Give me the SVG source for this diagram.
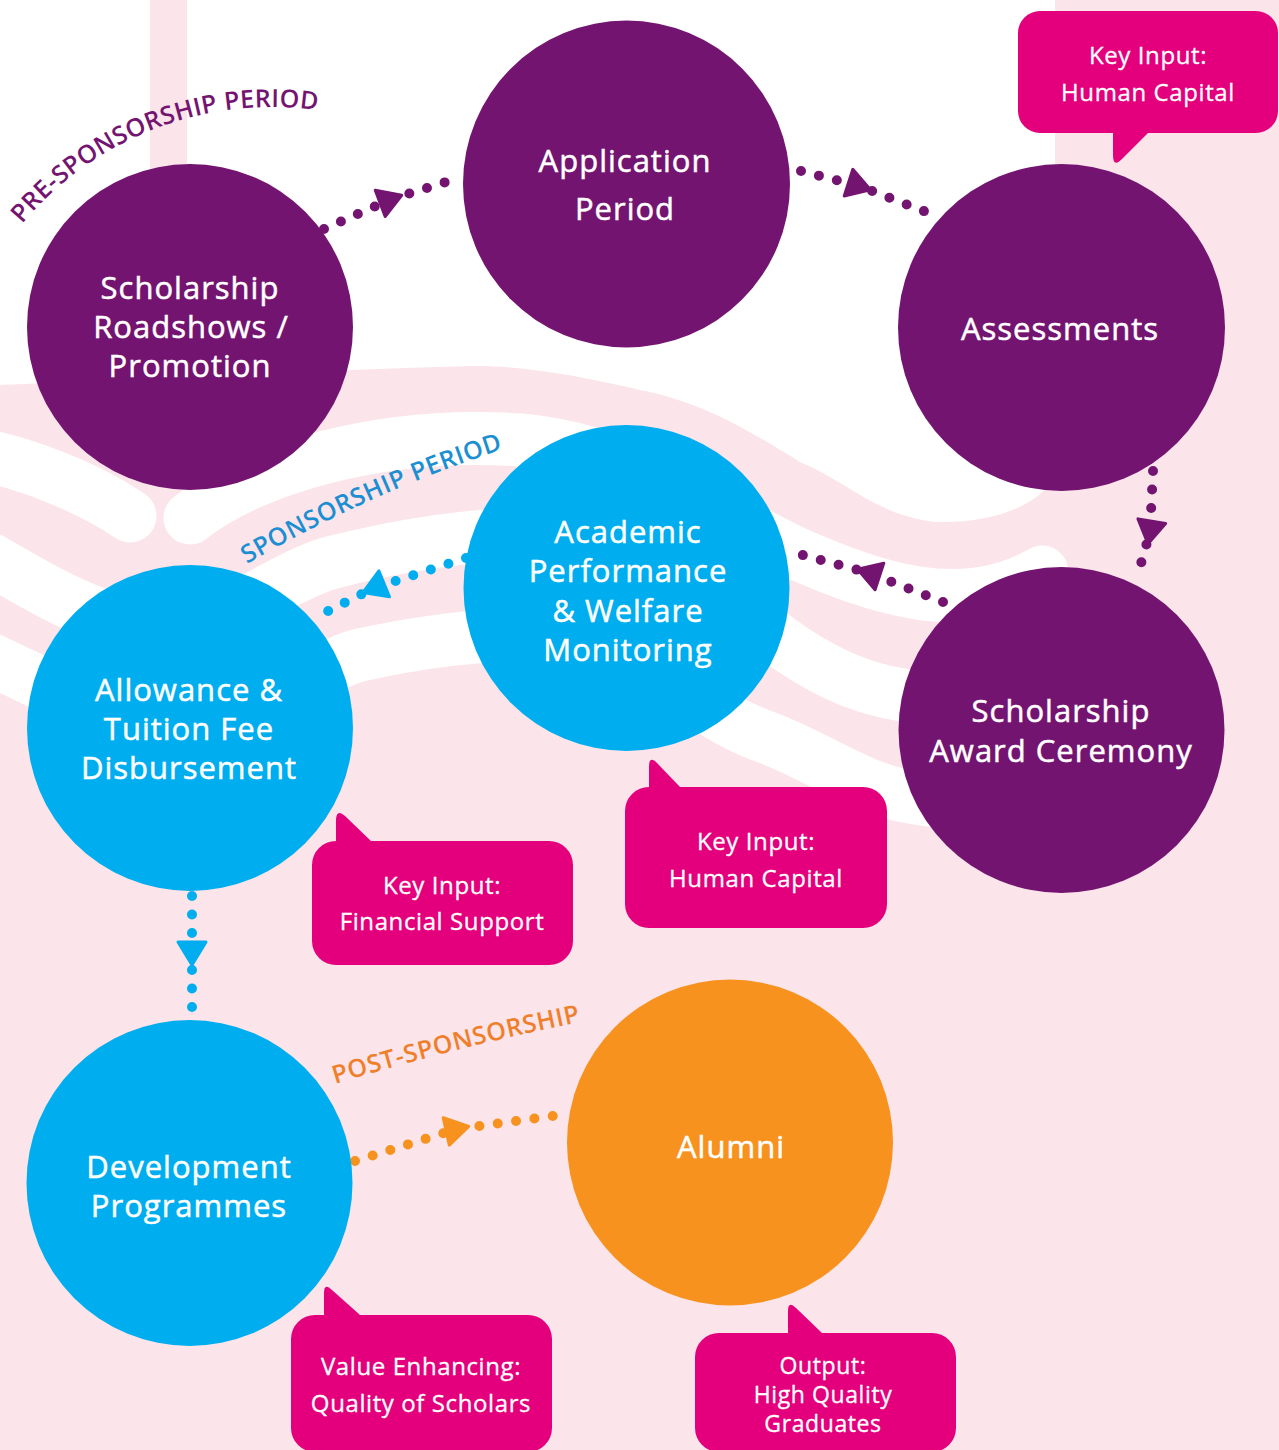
<svg xmlns="http://www.w3.org/2000/svg" width="1279" height="1450" viewBox="0 0 1279 1450">
<style>
.bg{fill:#FBE4EA}
.band{fill:none;stroke:#FFFFFF;stroke-width:53;stroke-linecap:round}
.np{fill:#741471}
.nb{fill:#00AEEF}
.no{fill:#F7921E}
.call{fill:#E4007C}
.lbl{font-family:"Open Sans","Noto Sans",sans-serif;font-size:31px;fill:#FFFFFF;stroke:#FFFFFF;stroke-width:0.5px;text-anchor:middle;letter-spacing:1px}
.ct{font-family:"Open Sans","Noto Sans",sans-serif;font-size:24px;fill:#FFFFFF;stroke:#FFFFFF;stroke-width:0.3px;text-anchor:middle;letter-spacing:0.6px}
.ct2{font-size:23px}
.phase{font-family:"Open Sans","Noto Sans",sans-serif;font-size:25px;font-weight:600}
.dots{fill:none;stroke-width:10;stroke-linecap:round;stroke-dasharray:0 18.5}
</style>
<defs>
<marker id="arrP" viewBox="-16 -18 32 36" markerWidth="32" markerHeight="36" refX="0" refY="0" orient="auto" markerUnits="userSpaceOnUse"><path d="M12,0 L-11,-14 L-11,14 Z" fill="#741471" stroke="#741471" stroke-width="3" stroke-linejoin="round"/></marker>
<marker id="arrB" viewBox="-16 -18 32 36" markerWidth="32" markerHeight="36" refX="0" refY="0" orient="auto" markerUnits="userSpaceOnUse"><path d="M12,0 L-11,-14 L-11,14 Z" fill="#00AEEF" stroke="#00AEEF" stroke-width="3" stroke-linejoin="round"/></marker>
<marker id="arrO" viewBox="-16 -18 32 36" markerWidth="32" markerHeight="36" refX="0" refY="0" orient="auto" markerUnits="userSpaceOnUse"><path d="M12,0 L-11,-14 L-11,14 Z" fill="#F7921E" stroke="#F7921E" stroke-width="3" stroke-linejoin="round"/></marker>
<path id="prePath" d="M22,224 A326,326 0 0 1 356,118"/>
<path id="sponPath" d="M247,564 A1296,1296 0 0 1 520,444"/>
<path id="postPath" d="M335,1084 A2645,2645 0 0 1 600,1018"/>
</defs>

<g id="background">
<rect class="bg" x="0" y="0" width="1279" height="1450"/>
<path fill="#FFFFFF" d="M0,0 H1055 V470 C1050,500 1000,524 935,522 C875,515 845,480 800,462 C740,425 700,402 640,390 C580,376 520,365 470,366 C330,370 150,378 0,385 Z"/>
<rect class="bg" x="150" y="0" width="37" height="200"/>
<path class="band" d="M-30,453 C20,460 90,488 130,516"/>
<path class="band" d="M190,518 C250,470 380,430 520,440 C640,450 720,520 800,555 C870,585 960,620 1042,572"/>
<path class="band" d="M-30,548 C40,585 110,640 190,620 C240,615 280,578 330,563 C400,545 460,535 560,532 C650,530 720,600 790,648 C830,675 870,693 920,697 C960,700 980,700 1000,700"/>
<path class="band" d="M-30,650 C40,680 100,720 180,730 C260,740 300,670 360,655 C420,642 470,635 560,632 C630,630 680,705 760,735 C810,752 850,783 900,795 C950,805 980,805 1000,800"/>
</g>

<g id="phase-labels">
<text class="phase" fill="#741471" letter-spacing="0.3"><textPath href="#prePath">PRE-SPONSORSHIP PERIOD</textPath></text>
<text class="phase" fill="#1C8FD2" letter-spacing="0.6"><textPath href="#sponPath">SPONSORSHIP PERIOD</textPath></text>
<text class="phase" fill="#EF7F2A" letter-spacing="0.6"><textPath href="#postPath">POST-SPONSORSHIP</textPath></text>
</g>

<g id="connectors">
<path class="dots" stroke="#741471" marker-mid="url(#arrP)" d="M324,229 L390.5,199.5 L449,181"/>
<path class="dots" stroke="#741471" marker-mid="url(#arrP)" d="M801,171 L859,186 L934,215"/>
<path class="dots" stroke="#741471" marker-mid="url(#arrP)" d="M1153,471 L1150,532 L1138,574"/>
<path class="dots" stroke="#741471" marker-mid="url(#arrP)" d="M943,602 L869,573 L795,553"/>
<path class="dots" stroke="#00AEEF" marker-mid="url(#arrB)" d="M466,558 L374,588 L318,616"/>
<path class="dots" stroke="#00AEEF" marker-mid="url(#arrB)" d="M192,896 L192,953 L192,1012"/>
<path class="dots" stroke="#F7921E" marker-mid="url(#arrO)" d="M355,1161 L457,1129 L567,1114"/>
</g>

<g id="node-roadshows">
<circle class="np" cx="190" cy="327" r="163"/>
<text class="lbl"><tspan x="190" y="299">Scholarship</tspan><tspan x="191" y="338">Roadshows /</tspan><tspan x="190" y="377">Promotion</tspan></text>
</g>
<g id="node-application">
<circle class="np" cx="626.5" cy="184" r="163.5"/>
<text class="lbl"><tspan x="625" y="172">Application</tspan><tspan x="625" y="220">Period</tspan></text>
</g>
<g id="node-assessments">
<circle class="np" cx="1061.5" cy="327.5" r="163.5"/>
<text class="lbl" x="1060" y="340">Assessments</text>
</g>
<g id="node-award">
<circle class="np" cx="1061.5" cy="730" r="163"/>
<text class="lbl"><tspan x="1061" y="722">Scholarship</tspan><tspan x="1061" y="762">Award Ceremony</tspan></text>
</g>
<g id="node-academic">
<circle class="nb" cx="626.5" cy="588" r="163"/>
<text class="lbl"><tspan x="628" y="543">Academic</tspan><tspan x="628" y="582">Performance</tspan><tspan x="628" y="622">&amp; Welfare</tspan><tspan x="628" y="661">Monitoring</tspan></text>
</g>
<g id="node-allowance">
<circle class="nb" cx="190" cy="728" r="163"/>
<text class="lbl"><tspan x="189" y="701">Allowance &amp;</tspan><tspan x="189" y="740">Tuition Fee</tspan><tspan x="189" y="779">Disbursement</tspan></text>
</g>
<g id="node-development">
<circle class="nb" cx="189.5" cy="1183" r="163"/>
<text class="lbl"><tspan x="189" y="1178">Development</tspan><tspan x="189" y="1217">Programmes</tspan></text>
</g>
<g id="node-alumni">
<circle class="no" cx="730" cy="1142.5" r="163"/>
<text class="lbl" x="731" y="1158">Alumni</text>
</g>

<g id="callout-assessments">
<path class="call" d="M1040,11 H1256 A22,22 0 0 1 1278,33 V111 A22,22 0 0 1 1256,133 H1148 L1122,159 Q1113,168 1113,155 V133 H1040 A22,22 0 0 1 1018,111 V33 A22,22 0 0 1 1040,11 Z"/>
<text class="ct"><tspan x="1148" y="64">Key Input:</tspan><tspan x="1148" y="101">Human Capital</tspan></text>
</g>
<g id="callout-allowance">
<path class="call" d="M336,841 V821 Q336,808 345,816 L371,841 H549 A24,24 0 0 1 573,865 V941 A24,24 0 0 1 549,965 H336 A24,24 0 0 1 312,941 V865 A24,24 0 0 1 336,841 Z"/>
<text class="ct"><tspan x="442" y="894">Key Input:</tspan><tspan x="442" y="930">Financial Support</tspan></text>
</g>
<g id="callout-academic">
<path class="call" d="M649,787 V767 Q649,755 657,763 L680,787 H863 A24,24 0 0 1 887,811 V904 A24,24 0 0 1 863,928 H649 A24,24 0 0 1 625,904 V811 A24,24 0 0 1 649,787 Z"/>
<text class="ct"><tspan x="756" y="850">Key Input:</tspan><tspan x="756" y="887">Human Capital</tspan></text>
</g>
<g id="callout-development">
<path class="call" d="M315,1315 H324 V1293 Q324,1282 332,1290 L360,1315 H528 A24,24 0 0 1 552,1339 V1428 A24,24 0 0 1 528,1452 H315 A24,24 0 0 1 291,1428 V1339 A24,24 0 0 1 315,1315 Z"/>
<text class="ct"><tspan x="421" y="1375">Value Enhancing:</tspan><tspan x="421" y="1412">Quality of Scholars</tspan></text>
</g>
<g id="callout-alumni">
<path class="call" d="M719,1333 H788 V1311 Q788,1300 796,1308 L822,1333 H932 A24,24 0 0 1 956,1357 V1428 A24,24 0 0 1 932,1452 H719 A24,24 0 0 1 695,1428 V1357 A24,24 0 0 1 719,1333 Z"/>
<text class="ct ct2"><tspan x="823" y="1374">Output:</tspan><tspan x="823" y="1403">High Quality</tspan><tspan x="823" y="1432">Graduates</tspan></text>
</g>
</svg>
